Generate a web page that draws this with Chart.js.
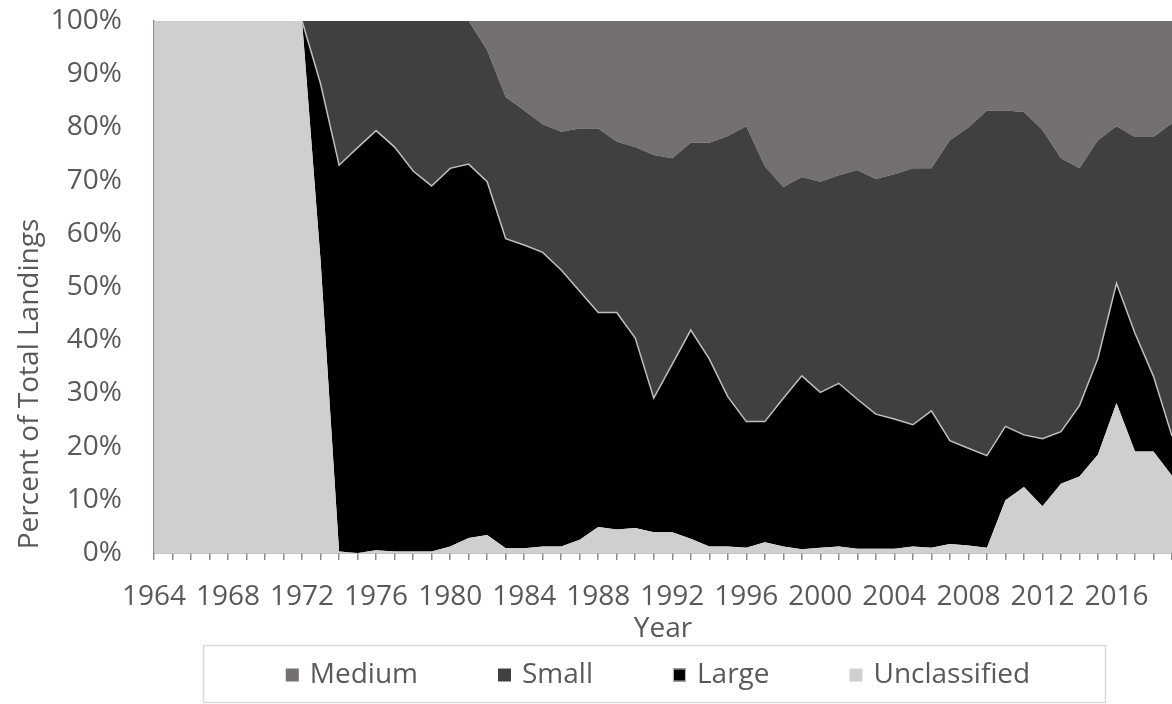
<!DOCTYPE html>
<html>
<head>
<meta charset="utf-8">
<script src="https://cdn.jsdelivr.net/npm/chart.js@4.4.1/dist/chart.umd.min.js"></script>
<style>
  html, body { margin: 0; padding: 0; background: #fff; }
  #wrap { width: 1172px; height: 704px; }
</style>
</head>
<body>
<div id="wrap"><canvas id="areaChart"></canvas></div>
<script>
// share of landings by vessel size class, percent per year
const years = ['1964','1965','1966','1967','1968','1969','1970','1971','1972','1973',
  '1974','1975','1976','1977','1978','1979','1980','1981','1982','1983',
  '1984','1985','1986','1987','1988','1989','1990','1991','1992','1993',
  '1994','1995','1996','1997','1998','1999','2000','2001','2002','2003',
  '2004','2005','2006','2007','2008','2009','2010','2011','2012','2013',
  '2014','2015','2016','2017','2018','2019'];

const unclassified = [100, 100, 100, 100, 100, 100, 100, 100, 100, 55,
  0.3, 0, 0.5, 0.3, 0.3, 0.3, 1.2, 2.8, 3.4, 0.9,
  0.9, 1.2, 1.2, 2.5, 4.9, 4.4, 4.7, 3.9, 3.9, 2.7,
  1.2, 1.2, 1.0, 2.0, 1.2, 0.7, 1.0, 1.2, 0.8, 0.8,
  0.8, 1.2, 1.0, 1.7, 1.4, 1.0, 9.9, 12.4, 8.8, 13.0,
  14.4, 18.5, 28.2, 19.1, 19.1, 14.5];

const large = [0, 0, 0, 0, 0, 0, 0, 0, 0, 33.2,
  72.6, 76.2, 78.9, 76.0, 71.5, 68.7, 71.1, 70.3, 66.4, 58.2,
  57.0, 55.3, 52.0, 46.7, 40.3, 40.8, 35.7, 25.2, 31.6, 39.2,
  35.3, 28.2, 23.7, 22.7, 27.9, 32.6, 29.2, 30.7, 28.1, 25.3,
  24.4, 22.9, 25.7, 19.4, 18.3, 17.3, 13.9, 9.8, 12.7, 9.8,
  13.3, 18.1, 22.5, 22.2, 14.1, 7.5];

const small = [0, 0, 0, 0, 0, 0, 0, 0, 0, 11.8,
  27.1, 23.8, 20.6, 23.7, 28.2, 31.0, 27.7, 26.9, 24.7, 26.6,
  25.3, 24.1, 26.0, 30.6, 34.6, 32.1, 35.9, 45.7, 38.7, 35.2,
  40.6, 49.0, 55.5, 48.0, 39.7, 37.4, 39.6, 39.1, 43.1, 44.2,
  46.0, 48.2, 45.6, 56.5, 60.3, 64.9, 59.4, 60.7, 58.0, 51.4,
  44.6, 41.0, 29.5, 36.9, 45.0, 58.8];

const medium = [0, 0, 0, 0, 0, 0, 0, 0, 0, 0,
  0, 0, 0, 0, 0, 0, 0, 0, 5.5, 14.3,
  16.8, 19.4, 20.8, 20.2, 20.2, 22.7, 23.7, 25.2, 25.8, 22.9,
  22.9, 21.6, 19.8, 27.3, 31.2, 29.3, 30.2, 29.0, 28.0, 29.7,
  28.8, 27.7, 27.7, 22.4, 20.0, 16.8, 16.8, 17.1, 20.5, 25.8,
  27.7, 22.4, 19.8, 21.8, 21.8, 19.2];

const textColor = '#595959';
const axisColor = '#8c8c8c';
const fontName = '"Open Sans", sans-serif';

// y title and boxed legend, drawn like the Excel original
const frameAndLegend = {
  id: 'frameAndLegend',
  afterDraw(chart) {
    const ctx = chart.ctx;
    ctx.save();
    ctx.font = '28px ' + fontName;
    ctx.fillStyle = textColor;
    ctx.textAlign = 'center';
    ctx.textBaseline = 'middle';
    ctx.translate(30, 384);
    ctx.rotate(-Math.PI / 2);
    ctx.fillText('Percent of Total Landings', 0, 0);
    ctx.restore();

    ctx.save();
    ctx.strokeStyle = '#d9d9d9';
    ctx.lineWidth = 1.5;
    ctx.strokeRect(203.5, 645.5, 902, 57);

    ctx.font = '28px ' + fontName;
    ctx.textBaseline = 'middle';
    const sets = chart.data.datasets.slice().reverse();
    const box = 13, gap = 11, itemGap = 80;
    let total = 0;
    sets.forEach(function (ds, i) {
      total += box + gap + ctx.measureText(ds.label).width;
      if (i > 0) total += itemGap;
    });
    let x = 658 - total / 2;
    const cy = 675;
    sets.forEach(function (ds) {
      ctx.fillStyle = ds.backgroundColor;
      ctx.fillRect(x, cy - box / 2, box, box);
      if (ds.label === 'Large') {
        ctx.strokeStyle = '#bfbfbf';
        ctx.lineWidth = 1;
        ctx.strokeRect(x + 0.5, cy - box / 2 + 0.5, box - 1, box - 1);
      }
      x += box + gap;
      ctx.fillStyle = textColor;
      ctx.textAlign = 'left';
      ctx.fillText(ds.label, x, cy);
      x += ctx.measureText(ds.label).width + itemGap;
    });
    ctx.restore();
  }
};

let areaChart = document.getElementById('areaChart');
new Chart(areaChart, {
  type: 'line',
  data: {
    labels: years,
    datasets: [
      {
        label: 'Unclassified',
        data: unclassified,
        backgroundColor: '#d0cece',
        borderColor: '#d0cece',
        borderWidth: 0,
        fill: 'origin',
      },
      {
        label: 'Large',
        data: large,
        backgroundColor: '#000000',
        borderColor: '#bfbfbf',
        borderWidth: 1.5,
        fill: '-1',
      },
      {
        label: 'Small',
        data: small,
        backgroundColor: '#404040',
        borderColor: '#404040',
        borderWidth: 0,
        fill: '-1',
      },
      {
        label: 'Medium',
        data: medium,
        backgroundColor: '#747070',
        borderColor: '#747070',
        borderWidth: 0,
        fill: '-1',
      },
    ],
  },
  options: {
    responsive: true,
    maintainAspectRatio: false,
    animation: false,
    layout: { padding: { top: 21, right: 0, bottom: 58, left: 0 } },
    elements: { point: { radius: 0 }, line: { tension: 0 } },
    plugins: {
      legend: { display: false },
      tooltip: { enabled: false },
    },
    scales: {
      x: {
        offset: false,
        grid: {
          drawOnChartArea: false,
          drawTicks: true,
          tickLength: 7,
          color: axisColor,
          lineWidth: 1.5,
        },
        border: { display: true, color: axisColor, width: 1.5 },
        ticks: {
          autoSkip: false,
          maxRotation: 0,
          minRotation: 0,
          padding: 20,
          color: textColor,
          font: { family: fontName, size: 28 },
          callback: function (value, index) {
            return (Number(years[index]) - 1964) % 4 === 0 ? years[index] : '';
          },
        },
        title: {
          display: true,
          text: 'Year',
          color: textColor,
          font: { family: fontName, size: 28 },
          padding: { top: 0, bottom: 0 },
        },
        afterFit: function (scale) {
          scale.height = 93;
          scale.paddingLeft = 0;
          scale.paddingRight = 0;
        },
      },
      y: {
        stacked: true,
        min: 0,
        max: 100,
        z: 1,
        grid: {
          drawTicks: false,
          color: function (c) {
            return c.tick && c.tick.value === 100 ? '#a6a6a6' : 'rgba(0,0,0,0)';
          },
        },
        border: { display: true, color: axisColor, width: 1.5 },
        ticks: {
          stepSize: 10,
          padding: 32,
          color: textColor,
          font: { family: fontName, size: 28 },
          callback: function (value) {
            return value + '%';
          },
        },
        afterFit: function (scale) {
          scale.width = 154;
          scale.paddingTop = 0;
          scale.paddingBottom = 0;
        },
      },
    },
  },
  plugins: [frameAndLegend],
});
</script>
</body>
</html>
